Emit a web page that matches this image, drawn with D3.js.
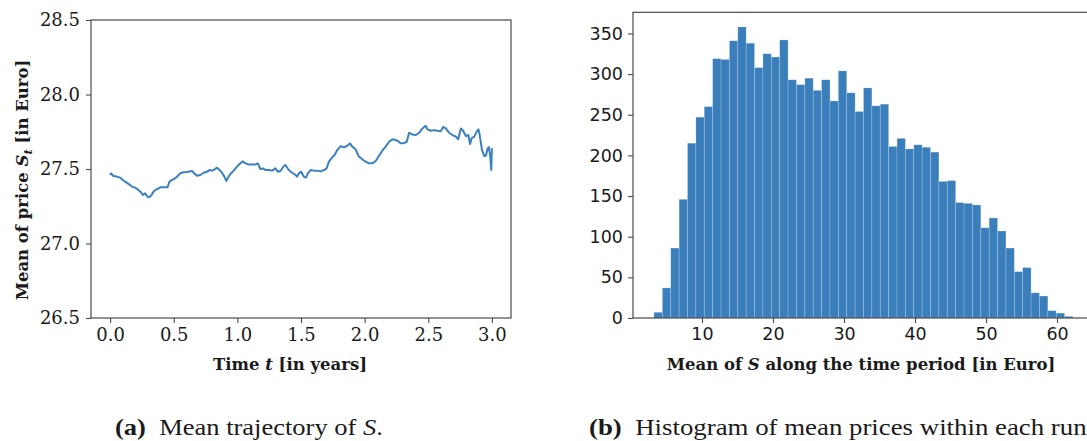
<!DOCTYPE html>
<html>
<head>
<meta charset="utf-8">
<script src="https://cdn.jsdelivr.net/npm/d3@7"></script>
<style>
  html, body { margin: 0; padding: 0; background: #fff; }
  svg { display: block; }
</style>
</head>
<body>
<svg id="fig" width="1087" height="441"></svg>
<script>
// ---- (a) mean trajectory of S over three years ----
const times = [
  0.000, 0.008, 0.026, 0.052, 0.079, 0.100, 0.118, 0.144, 0.171, 0.197,
  0.223, 0.244, 0.257, 0.276, 0.289, 0.302, 0.315, 0.328, 0.346, 0.367,
  0.394, 0.420, 0.451, 0.467, 0.486, 0.512, 0.533, 0.551, 0.577, 0.604,
  0.643, 0.656, 0.682, 0.709, 0.735, 0.761, 0.782, 0.801, 0.814, 0.840,
  0.861, 0.879, 0.898, 0.913, 0.924, 0.945, 0.971, 0.997, 1.024, 1.042,
  1.063, 1.089, 1.115, 1.142, 1.160, 1.181, 1.202, 1.220, 1.247, 1.273,
  1.299, 1.318, 1.339, 1.365, 1.378, 1.404, 1.430, 1.457, 1.470, 1.483,
  1.501, 1.522, 1.538, 1.554, 1.575, 1.601, 1.627, 1.654, 1.680, 1.701,
  1.719, 1.745, 1.764, 1.785, 1.811, 1.837, 1.864, 1.885, 1.903, 1.929,
  1.955, 1.982, 2.008, 2.034, 2.060, 2.087, 2.113, 2.139, 2.165, 2.192,
  2.218, 2.244, 2.262, 2.283, 2.304, 2.331, 2.349, 2.375, 2.402, 2.428,
  2.454, 2.480, 2.493, 2.520, 2.546, 2.572, 2.598, 2.619, 2.638, 2.664,
  2.690, 2.717, 2.735, 2.756, 2.774, 2.795, 2.814, 2.829, 2.840, 2.861,
  2.882, 2.895, 2.906, 2.921, 2.940, 2.953, 2.966, 2.976, 2.987, 2.995,
  3.000
];
const meanPrice = [
  27.460, 27.471, 27.453, 27.449, 27.442, 27.426, 27.415, 27.400, 27.382, 27.375,
  27.359, 27.342, 27.326, 27.337, 27.319, 27.310, 27.315, 27.330, 27.353, 27.364,
  27.377, 27.377, 27.377, 27.415, 27.426, 27.438, 27.455, 27.471, 27.478, 27.480,
  27.487, 27.475, 27.455, 27.460, 27.475, 27.482, 27.493, 27.489, 27.493, 27.509,
  27.493, 27.475, 27.449, 27.420, 27.438, 27.467, 27.489, 27.516, 27.538, 27.551,
  27.538, 27.531, 27.531, 27.531, 27.538, 27.500, 27.504, 27.493, 27.493, 27.489,
  27.504, 27.482, 27.487, 27.520, 27.527, 27.493, 27.475, 27.460, 27.449, 27.471,
  27.482, 27.449, 27.442, 27.471, 27.493, 27.489, 27.489, 27.484, 27.493, 27.504,
  27.549, 27.578, 27.594, 27.627, 27.654, 27.645, 27.656, 27.672, 27.650, 27.632,
  27.583, 27.565, 27.549, 27.538, 27.538, 27.554, 27.589, 27.623, 27.650, 27.683,
  27.699, 27.694, 27.688, 27.672, 27.672, 27.683, 27.743, 27.732, 27.728, 27.743,
  27.772, 27.790, 27.766, 27.757, 27.761, 27.757, 27.754, 27.783, 27.772, 27.743,
  27.728, 27.717, 27.699, 27.772, 27.757, 27.721, 27.728, 27.667, 27.705, 27.717,
  27.754, 27.766, 27.717, 27.632, 27.587, 27.589, 27.638, 27.647, 27.583, 27.493,
  27.640
];
const trajXTicks = [0.0, 0.5, 1.0, 1.5, 2.0, 2.5, 3.0];
const trajYTicks = [26.5, 27.0, 27.5, 28.0, 28.5];

// ---- (b) histogram of mean prices per run (50 equal bins) ----
const binStart = 3.24;
const binWidth = 1.18;
const binCounts = [
    7,  37,  86, 146, 215, 247, 260, 319, 318, 341,
  358, 338, 308, 325, 321, 342, 293, 287, 295, 280,
  293, 267, 304, 277, 254, 283, 261, 263, 211, 221,
  208, 213, 210, 204, 168, 169, 142, 141, 139, 111,
  123, 107,  86,  57,  62,  31,  27,   9,   6,   2
];
const histXTicks = [10, 20, 30, 40, 50, 60];
const histYTicks = [0, 50, 100, 150, 200, 250, 300, 350];

const ink = "#1a1a1a";
const spine = "#4a4a4a";
const blue = "#3a7ebb";
const serif = "'DejaVu Serif', serif";
const sans = "'DejaVu Sans', sans-serif";

const svg = d3.select("#fig");

function styleAxis(g, family, size) {
  g.select(".domain").remove();
  g.selectAll(".tick line").attr("stroke", spine).attr("stroke-width", 1.1);
  g.selectAll(".tick text")
    .attr("fill", ink)
    .style("font-family", family)
    .style("font-size", size + "px");
}

// ===== panel (a) =====
const A = { left: 91, right: 511, top: 20, bottom: 318 };
const xA = d3.scaleLinear().domain([-0.15, 3.15]).range([A.left, A.right]);
const yA = d3.scaleLinear().domain([26.5, 28.5]).range([A.bottom, A.top]);

const gA = svg.append("g");

gA.append("path")
  .datum(times.map((t, i) => [t, meanPrice[i]]))
  .attr("fill", "none")
  .attr("stroke", "#3b80bf")
  .attr("stroke-width", 2)
  .attr("stroke-linejoin", "round")
  .attr("d", d3.line().x(d => xA(d[0])).y(d => yA(d[1])));

gA.append("g")
  .attr("transform", `translate(0,${A.bottom})`)
  .call(d3.axisBottom(xA).tickValues(trajXTicks).tickFormat(d3.format(".1f"))
        .tickSize(5).tickPadding(5).tickSizeOuter(0))
  .call(g => styleAxis(g, serif, 18));

gA.append("g")
  .attr("transform", `translate(${A.left},0)`)
  .call(d3.axisLeft(yA).tickValues(trajYTicks).tickFormat(d3.format(".1f"))
        .tickSize(5).tickPadding(6).tickSizeOuter(0))
  .call(g => styleAxis(g, serif, 18));

gA.append("rect")
  .attr("x", A.left).attr("y", A.top)
  .attr("width", A.right - A.left).attr("height", A.bottom - A.top)
  .attr("fill", "none").attr("stroke", spine).attr("stroke-width", 1.2);

const xlabA = gA.append("text")
  .attr("x", 290).attr("y", 370)
  .attr("text-anchor", "middle")
  .attr("fill", ink)
  .style("font-family", serif).style("font-size", "16.5px").style("font-weight", "bold");
xlabA.append("tspan").text("Time ");
xlabA.append("tspan").style("font-style", "italic").text("t");
xlabA.append("tspan").text(" [in years]");

const ylabA = gA.append("text")
  .attr("transform", "translate(28,180) rotate(-90)")
  .attr("text-anchor", "middle")
  .attr("fill", ink)
  .style("font-family", serif).style("font-size", "16.5px").style("font-weight", "bold");
ylabA.append("tspan").text("Mean of price ");
ylabA.append("tspan").style("font-style", "italic").text("S");
ylabA.append("tspan").style("font-style", "italic").style("font-size", "11.5px")
  .attr("dy", 4).text("t");
ylabA.append("tspan").attr("dy", -4).text(" [in Euro]");

// ===== panel (b) =====
const B = { left: 633, right: 1094, top: 12.3, bottom: 318 };
const xB = d3.scaleLinear().domain([0.285, 65.2]).range([B.left, B.right]);
const yB = d3.scaleLinear().domain([0, 376]).range([B.bottom, B.top]);

const bins = binCounts.map((c, i) => ({
  x0: binStart + i * binWidth,
  x1: binStart + (i + 1) * binWidth,
  count: c
}));

const gB = svg.append("g");

gB.selectAll("rect.bar")
  .data(bins)
  .join("rect")
  .attr("class", "bar")
  .attr("x", d => xB(d.x0))
  .attr("width", d => xB(d.x1) - xB(d.x0))
  .attr("y", d => yB(d.count))
  .attr("height", d => yB(0) - yB(d.count))
  .attr("fill", blue)
  .attr("stroke", "rgba(255,255,255,0.28)")
  .attr("stroke-width", 0.7);

gB.append("g")
  .attr("transform", `translate(0,${B.bottom})`)
  .call(d3.axisBottom(xB).tickValues(histXTicks).tickFormat(d3.format("d"))
        .tickSize(5).tickPadding(5).tickSizeOuter(0))
  .call(g => styleAxis(g, sans, 17.5));

gB.append("g")
  .attr("transform", `translate(${B.left},0)`)
  .call(d3.axisLeft(yB).tickValues(histYTicks).tickFormat(d3.format("d"))
        .tickSize(5).tickPadding(5).tickSizeOuter(0))
  .call(g => styleAxis(g, sans, 17.5));

gB.append("rect")
  .attr("x", B.left).attr("y", B.top)
  .attr("width", B.right - B.left).attr("height", B.bottom - B.top)
  .attr("fill", "none").attr("stroke", spine).attr("stroke-width", 1.2);

const xlabB = gB.append("text")
  .attr("x", 861).attr("y", 370)
  .attr("text-anchor", "middle")
  .attr("fill", ink)
  .style("font-family", serif).style("font-size", "16.5px").style("font-weight", "bold");
xlabB.append("tspan").text("Mean of ");
xlabB.append("tspan").style("font-style", "italic").text("S");
xlabB.append("tspan").text(" along the time period [in Euro]");

// ===== sub-captions =====
const capFamily = "'Liberation Serif', 'Times New Roman', serif";
function caption(x, letter, words, sym, tail) {
  const g = svg.append("g").attr("transform", `translate(${x},435)`);
  const t = g.append("text")
    .attr("fill", ink)
    .style("font-family", capFamily).style("font-size", "22.5px");
  t.append("tspan").style("font-weight", "bold").text(`(${letter})`);
  t.append("tspan").text("\u2002" + words);
  if (sym) t.append("tspan").style("font-style", "italic").text(sym);
  t.append("tspan").text(tail);
  return { g, t };
}
// widen the captions to the broader text face used for the document body
function fitWidth(cap, target, trailing) {
  const node = cap.t.node();
  const n = node.getNumberOfChars();
  const w = node.getSubStringLength(0, n - trailing);
  cap.t.attr("transform", `scale(${target / w},1)`);
}
const capA = caption(115, "a", "Mean trajectory of ", "S", ".");
const capB = caption(589, "b", "Histogram of mean prices within each run", null, ".");
fitWidth(capA, 268, 0);
fitWidth(capB, 498, 1);
</script>
</body>
</html>
